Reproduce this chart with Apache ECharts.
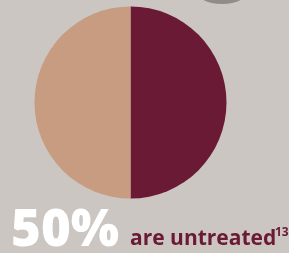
<!DOCTYPE html>
<html lang="en">
<head>
  <meta charset="UTF-8">
  <title>50% are untreated</title>
  <script src="https://cdn.jsdelivr.net/npm/echarts@6/dist/echarts.min.js"></script>
  <style>
    html, body { margin: 0; padding: 0; background: #cbc6c1; }
  </style>
</head>
<body>
  <div id="chart" style="width: 289px; height: 253px;"></div>

  <script>
    // data
    let categories = ['untreated', 'treated']
    let values = [50, 50]
    let colors = ['#6b1a35', '#c89c80']
    let bigLabel = '50%'
    let caption = 'are untreated'
    let footnote = '13'

    let myChart = echarts.init(document.querySelector('#chart'))

    let pieData = categories.map((name, i) => ({
      name: name,
      value: values[i],
      itemStyle: { color: colors[i] }
    }))

    let options = {
      backgroundColor: '#cbc6c1',
      animation: false,
      graphic: [
        // grey blob peeking in at the top
        {
          type: 'ellipse',
          shape: { cx: 222, cy: -8, rx: 25, ry: 12 },
          style: { fill: '#918c89' }
        },
        {
          type: 'text',
          left: 11,
          top: 206,
          style: {
            text: bigLabel,
            font: '800 51px "Open Sans"',
            fill: '#ffffff'
          }
        },
        {
          type: 'text',
          left: 130,
          top: 229,
          style: {
            text: caption,
            font: 'bold 21px "Open Sans"',
            fill: '#6b1a35'
          }
        },
        {
          type: 'text',
          left: 275,
          top: 227,
          style: {
            text: footnote,
            font: 'bold 12px "Open Sans"',
            fill: '#6b1a35'
          }
        }
      ],
      series: [{
        type: 'pie',
        center: [130.5, 102.5],
        radius: 96,
        startAngle: 90,
        clockwise: true,
        silent: true,
        label: { show: false },
        labelLine: { show: false },
        itemStyle: { borderWidth: 0 },
        data: pieData
      }]
    }

    myChart.setOption(options)
  </script>
</body>
</html>
